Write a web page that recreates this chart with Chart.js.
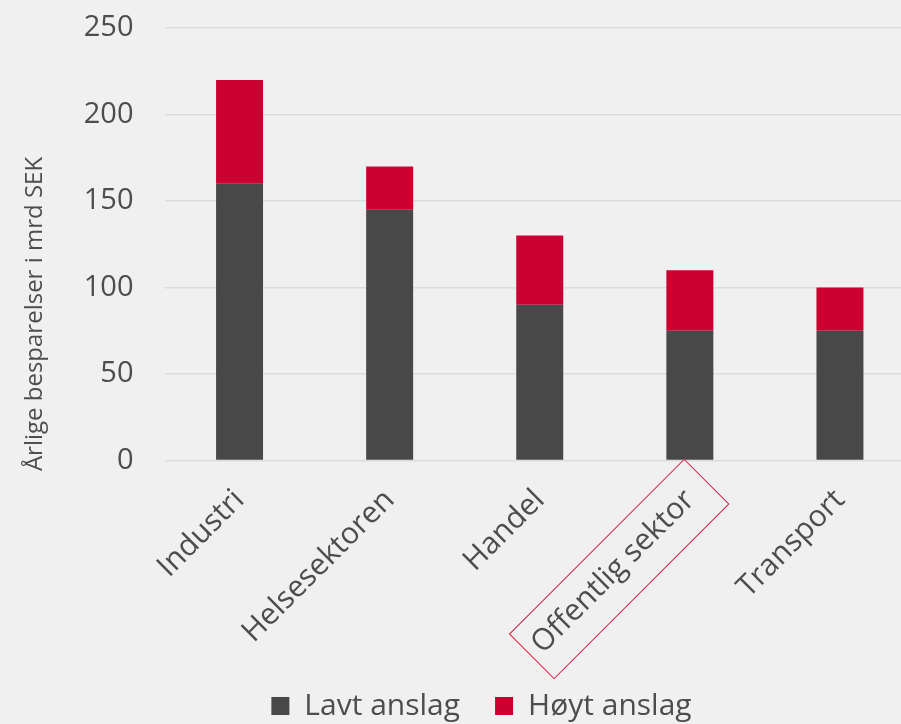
<!DOCTYPE html>
<html>
<head>
<meta charset="utf-8">
<script src="https://cdn.jsdelivr.net/npm/chart.js@4/dist/chart.umd.min.js"></script>
<style>
  html, body { margin: 0; padding: 0; background: #f0f0f0; overflow: hidden; }
  #wrap { width: 901px; height: 724px; overflow: hidden; position: relative; }
  canvas { display: block; }
</style>
</head>
<body>
<div id="wrap"><canvas id="c" width="915" height="724"></canvas></div>
<script>
const categories = ['Industri', 'Helsesektoren', 'Handel', 'Offentlig sektor', 'Transport'];
const lowValues = [160, 145, 90, 75, 75];        // Lavt anslag
const highIncrement = [60, 25, 40, 35, 25];      // Høyt anslag (added on top)
const yTicks = [0, 50, 100, 150, 200, 250];
const seriesNames = ['Lavt anslag', 'Høyt anslag'];
const axisTitle = 'Årlige besparelser i mrd SEK';

const FONT = 'Open Sans';
const TXT = '#4d4d4d';

const yTitlePlugin = {
  id: 'yTitle',
  afterDraw(chart) {
    const ctx = chart.ctx;
    ctx.save();
    ctx.translate(35, 314);
    ctx.rotate(-Math.PI / 2);
    ctx.font = '24px "' + FONT + '"';
    ctx.fillStyle = TXT;
    ctx.textAlign = 'center';
    ctx.textBaseline = 'middle';
    ctx.fillText(axisTitle, 0, 0);
    ctx.restore();
  }
};

const boxPlugin = {
  id: 'labelBox',
  afterDraw(chart) {
    const xs = chart.scales.x;
    const tx = xs.getPixelForValue(3);
    const cx = tx - 70.7, cy = xs.top + 108.5;
    const ctx = chart.ctx;
    ctx.save();
    ctx.translate(cx, cy);
    ctx.rotate(-Math.PI / 4);
    ctx.strokeStyle = '#d8183f';
    ctx.lineWidth = 1;
    ctx.strokeRect(-123.5, -31.5, 247, 63);
    ctx.restore();
  }
};

new Chart(document.getElementById('c'), {
  type: 'bar',
  data: {
    labels: categories,
    datasets: [
      { label: seriesNames[0], data: lowValues, backgroundColor: '#484848', borderWidth: 0,
        barPercentage: 0.313, categoryPercentage: 1 },
      { label: seriesNames[1], data: highIncrement, backgroundColor: '#cc0030', borderWidth: 0,
        barPercentage: 0.313, categoryPercentage: 1 }
    ]
  },
  options: {
    responsive: false,
    animation: false,
    layout: { padding: { left: 48, top: 28, right: 0, bottom: 0 } },
    plugins: {
      legend: {
        position: 'bottom',
        maxHeight: 68,
        labels: {
          boxWidth: 18, boxHeight: 18, padding: 35,
          color: TXT,
          font: { family: FONT, size: 30 }
        }
      },
      tooltip: { enabled: false },
      title: { display: false }
    },
    scales: {
      x: {
        stacked: true,
        grid: { display: false },
        border: { display: false },
        ticks: {
          color: TXT, font: { family: FONT, size: 30 },
          minRotation: 45, maxRotation: 45, autoSkip: false, padding: 14
        },
        afterFit(scale) { scale.height = 656 - 460.5; scale.paddingLeft = 0; scale.paddingRight = 0; }
      },
      y: {
        stacked: true,
        min: 0, max: 250,
        afterBuildTicks(scale) { scale.ticks = yTicks.map(v => ({ value: v })); },
        grid: { color: '#dcdcdc', lineWidth: 1.5, drawTicks: false },
        border: { display: false },
        ticks: { color: TXT, font: { family: FONT, size: 29 }, padding: 31 },
        afterFit(scale) { scale.width = 116.5; scale.paddingTop = 0; scale.paddingBottom = 0; }
      }
    }
  },
  plugins: [yTitlePlugin, boxPlugin]
});
</script>
</body>
</html>
